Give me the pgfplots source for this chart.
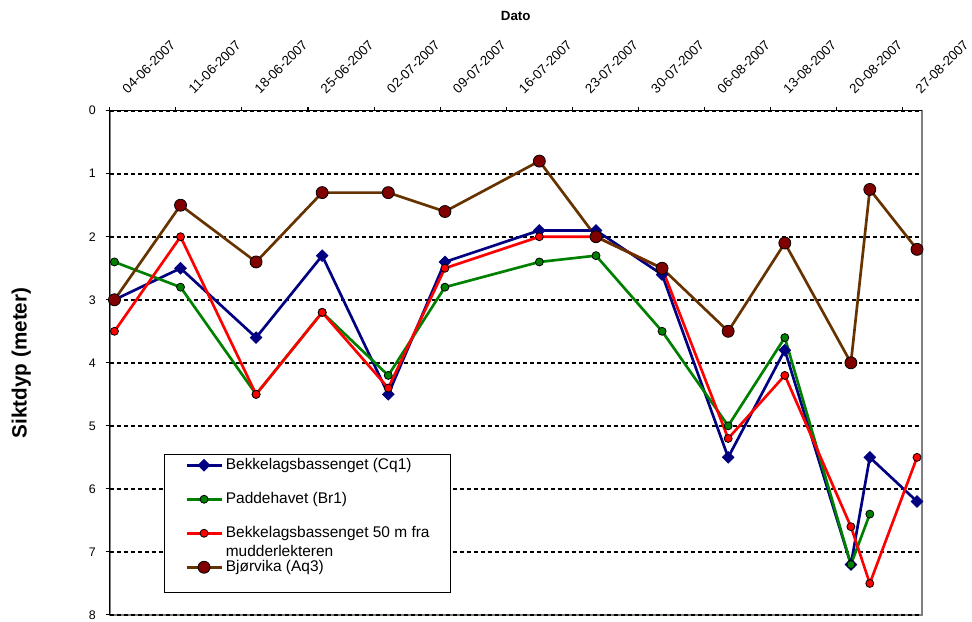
\documentclass[border=0pt]{standalone}
\usepackage{pgfplots}
\pgfplotsset{compat=1.18}
\usepackage{fontspec}
\setmainfont{Liberation Sans}
\definecolor{cblue}{HTML}{000080}
\definecolor{cgreen}{HTML}{008000}
\definecolor{cred}{HTML}{FF0000}
\definecolor{cbrown}{HTML}{663300}
\definecolor{cmaroon}{HTML}{800000}
\begin{document}
\begin{tikzpicture}
\begin{axis}[name=ax,
  scale only axis, width=609pt, height=378.2pt,
  xmin=0, xmax=86, ymin=0, ymax=8, y dir=reverse,
  axis x line*=top, axis y line*=left,
  axis line style={black, line width=0.9pt, -},
  tick align=outside, major tick length=3pt,
  tick style={black, line width=0.8pt},
  xtick={0,7,...,84},
  xticklabels={04-06-2007,11-06-2007,18-06-2007,25-06-2007,02-07-2007,09-07-2007,16-07-2007,23-07-2007,30-07-2007,06-08-2007,13-08-2007,20-08-2007,27-08-2007},
  ytick={0,...,8},
  xticklabel style={font=\fontsize{10}{12}\selectfont, anchor=base west, inner sep=0pt, xshift=13.5pt, yshift=9.3pt, rotate=45},
  yticklabel style={font=\fontsize{9.3}{11}\selectfont, xshift=-4pt},
  /pgf/number format/assume math mode=true,
  ymajorgrids, grid style={black, line width=1.4pt, dash pattern=on 3pt off 2.25pt},
  axis background/.style={draw=gray, line width=1.2pt},
  legend cell align=left,
  legend style={draw=none, fill=none, at={(0.0927,0.3311)}, anchor=north west,
    inner sep=0pt, row sep=0pt, font=\fontsize{11.6}{13.9}\selectfont,
    nodes={inner sep=0pt, text height=16.25pt, text depth=9.25pt},
    /tikz/every odd column/.append style={column sep=2.25pt}},
  legend image code/.code={\draw[mark repeat=2,mark phase=2,#1] plot coordinates {(0cm,0cm) (0.46cm,0cm) (0.92cm,0cm)};},
]
\draw[black, line width=0.8pt, fill=white] (axis description cs:0.0672,0.3187) rectangle (axis description cs:0.4191,0.0450);

\addplot[cblue, line width=2pt, mark=square*, mark size=3.1pt, mark options={rotate=45, fill=cblue, draw=cblue, line width=0.5pt}]
coordinates {(0.5,3.0) (7.5,2.5) (15.5,3.6) (22.5,2.3) (29.5,4.5) (35.5,2.4) (45.5,1.9) (51.5,1.9) (58.5,2.6) (65.5,5.5) (71.5,3.8) (78.5,7.2) (80.5,5.5) (85.5,6.2)};
\addlegendentry{Bekkelagsbassenget (Cq1)}

\addplot[cgreen, line width=2pt, mark=*, mark size=3pt, mark options={fill=cgreen, draw=black, line width=0.6pt}]
coordinates {(0.5,2.4) (7.5,2.8) (15.5,4.5) (22.5,3.2) (29.5,4.2) (35.5,2.8) (45.5,2.4) (51.5,2.3) (58.5,3.5) (65.5,5.0) (71.5,3.6) (78.5,7.2) (80.5,6.4)};
\addlegendentry{Paddehavet (Br1)}

\addplot[cred, line width=2pt, mark=*, mark size=3pt, mark options={fill=cred, draw=black, line width=0.6pt}]
coordinates {(0.5,3.5) (7.5,2.0) (15.5,4.5) (22.5,3.2) (29.5,4.4) (35.5,2.5) (45.5,2.0) (51.5,2.0) (58.5,2.5) (65.5,5.2) (71.5,4.2) (78.5,6.6) (80.5,7.5) (85.5,5.5)};
\addlegendentry{\smash{\begin{tabular}[t]{@{}l@{}}Bekkelagsbassenget 50 m fra\\mudderlekteren\end{tabular}}}

\addplot[cbrown, line width=2pt, mark=*, mark size=4.5pt, mark options={fill=cmaroon, draw=black, line width=0.6pt}]
coordinates {(0.5,3.0) (7.5,1.5) (15.5,2.4) (22.5,1.3) (29.5,1.3) (35.5,1.6) (45.5,0.8) (51.5,2.0) (58.5,2.5) (65.5,3.5) (71.5,2.1) (78.5,4.0) (80.5,1.25) (85.5,2.2)};
\addlegendentry{Bjørvika (Aq3)}
\end{axis}
\node[font=\bfseries\fontsize{10}{12}\selectfont] at ([yshift=71pt]ax.north) {Dato};
\node[rotate=90, font=\bfseries\fontsize{15.5}{18}\selectfont] at ([xshift=-66.4pt]ax.west) {Siktdyp (meter)};
\pgfresetboundingbox
\path[use as bounding box] ([xshift=-82.3pt, yshift=-5.25pt]ax.south west) rectangle ([xshift=37.7pt, yshift=83pt]ax.north east);
\end{tikzpicture}
\end{document}
